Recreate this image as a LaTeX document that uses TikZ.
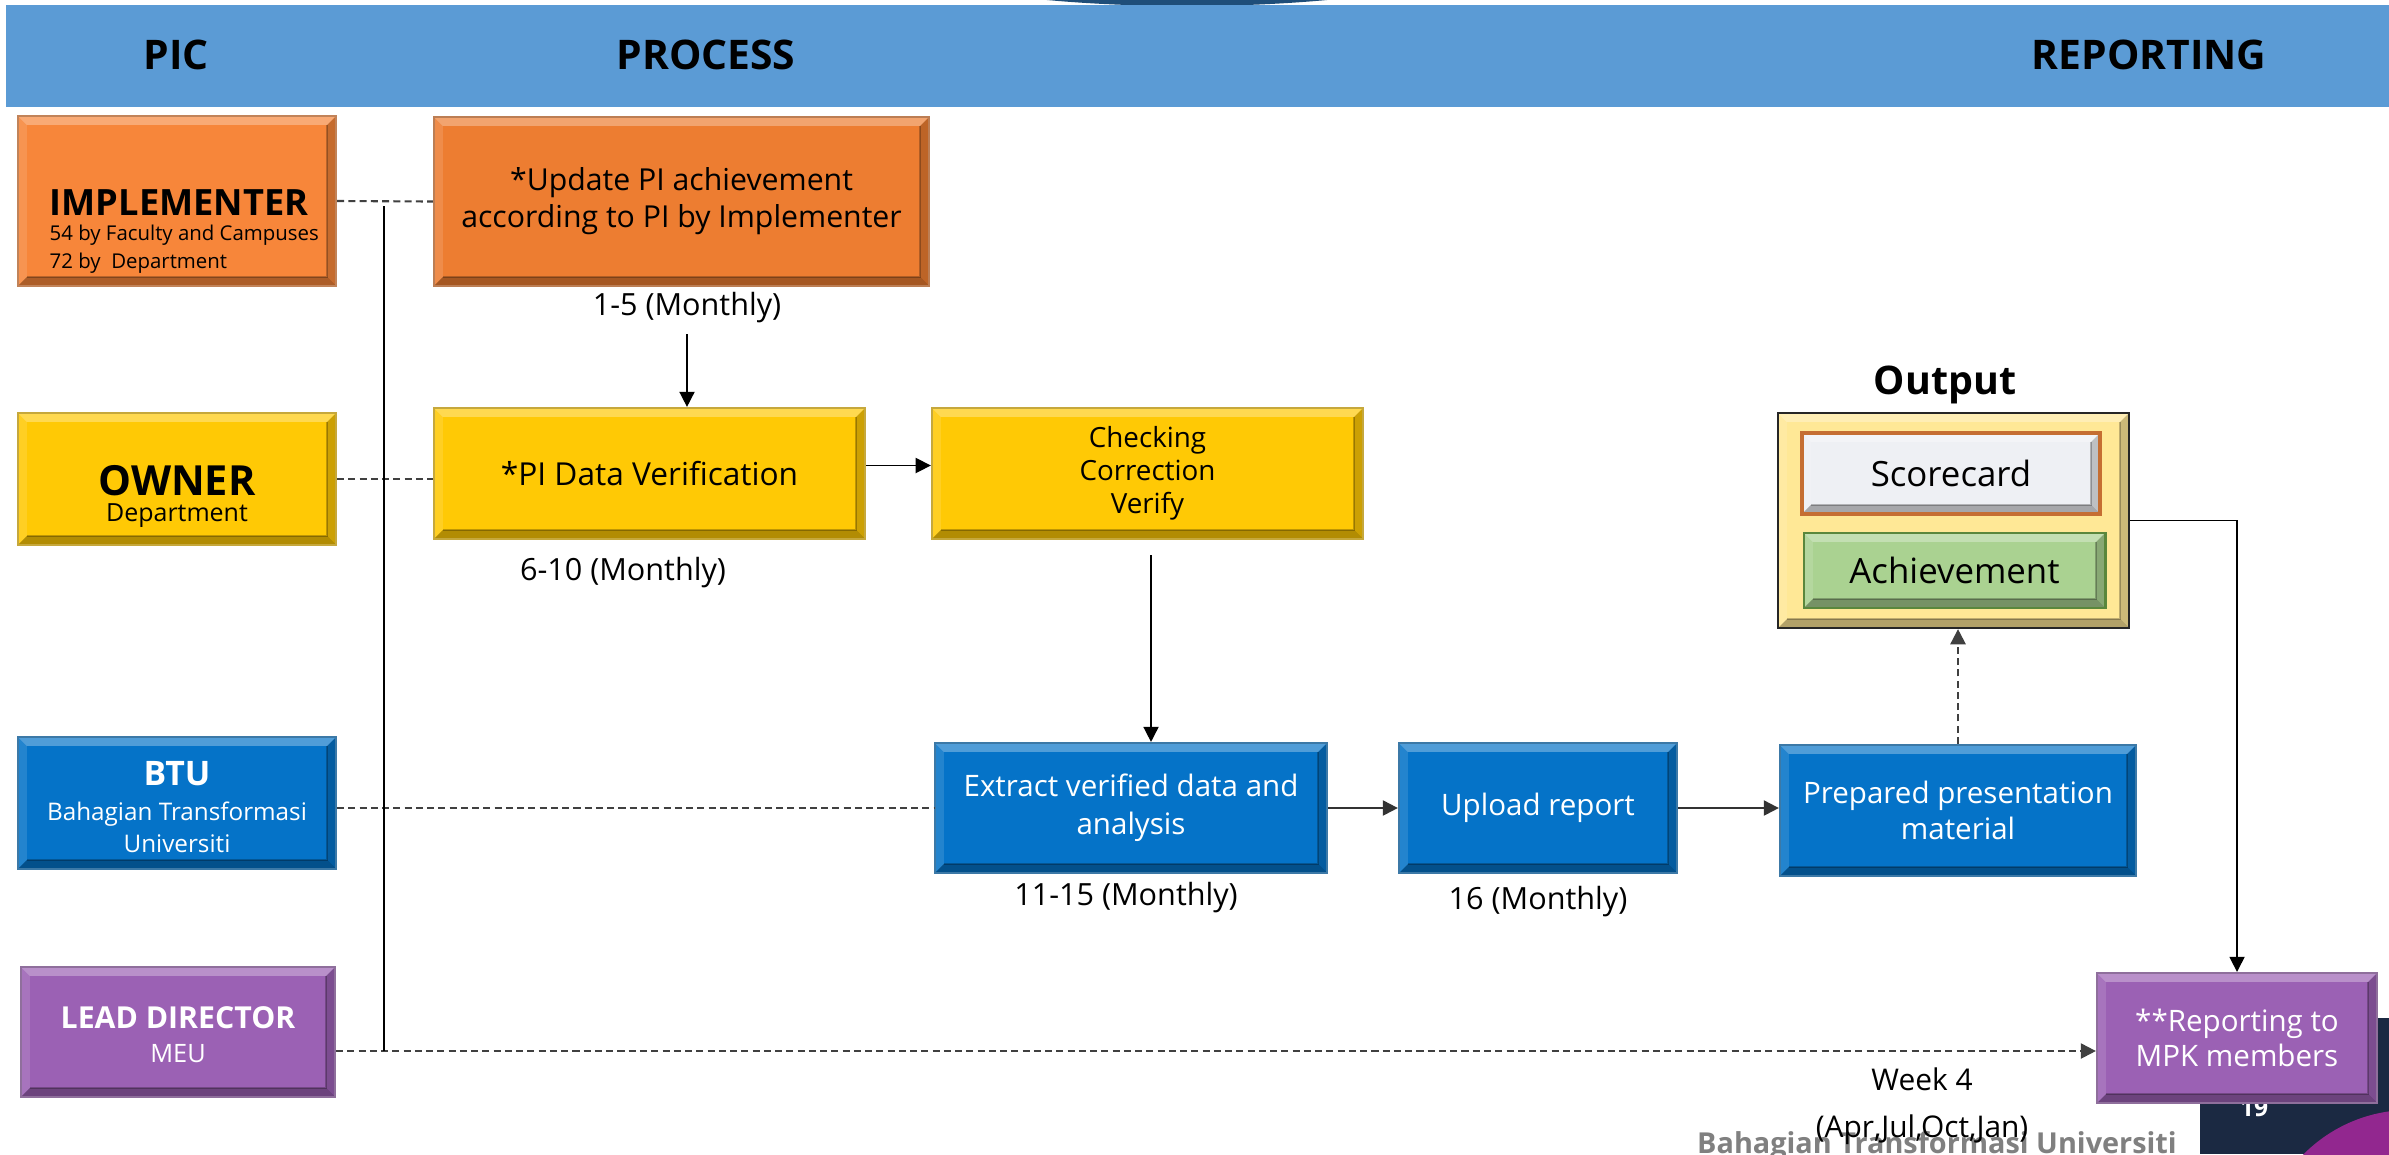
\documentclass[tikz,border=0pt]{standalone}
\usepackage{fontspec}
\setmainfont{Open Sans}
\usetikzlibrary{arrows.meta,calc}
\definecolor{band}{RGB}{91,155,213}
\definecolor{bandtop}{RGB}{31,78,121}
\definecolor{orA}{RGB}{247,134,58}
\definecolor{orB}{RGB}{237,125,49}
\definecolor{yel}{RGB}{255,201,5}
\definecolor{blu}{RGB}{5,115,200}
\definecolor{pur}{RGB}{155,97,180}
\definecolor{outy}{RGB}{255,232,150}
\definecolor{scw}{RGB}{238,240,244}
\definecolor{scb}{RGB}{197,110,50}
\definecolor{achg}{RGB}{170,210,145}
\definecolor{achb}{RGB}{90,135,60}
\definecolor{navy}{RGB}{27,41,66}
\definecolor{magp}{RGB}{146,39,143}
\definecolor{footg}{RGB}{128,128,128}
\newcommand\myfs[2]{\fontsize{#1}{#2}\selectfont}
\def\bv{0.09cm}
\begin{document}
\begin{tikzpicture}[x=0.01cm,y=-0.01cm,
  bev/.style={fill=#1, draw=#1!55!gray, line width=0.6pt, inner sep=0pt,
    path picture={
      \coordinate (q1) at (path picture bounding box.north west);
      \coordinate (q2) at (path picture bounding box.north east);
      \coordinate (q3) at (path picture bounding box.south east);
      \coordinate (q4) at (path picture bounding box.south west);
      \coordinate (r1) at ($(q1)+(\bv,-\bv)$);
      \coordinate (r2) at ($(q2)+(-\bv,-\bv)$);
      \coordinate (r3) at ($(q3)+(-\bv,\bv)$);
      \coordinate (r4) at ($(q4)+(\bv,\bv)$);
      \fill[white,opacity=.30] (q1)--(q2)--(r2)--(r1)--cycle;
      \fill[white,opacity=.12] (q1)--(r1)--(r4)--(q4)--cycle;
      \fill[black,opacity=.20] (q2)--(q3)--(r3)--(r2)--cycle;
      \fill[black,opacity=.30] (q4)--(q3)--(r3)--(r4)--cycle;
      \draw[black,opacity=.25,line width=.5pt] (r4)--(r3)--(r2);
    }},
  txt/.style={inner sep=0pt},
  dline/.style={draw=black!75, line width=0.6pt, dash pattern=on 2pt off 1.2pt},
  sline/.style={draw=black, line width=0.45pt},
  arr/.style={-{Triangle[length=4.3pt,width=4.3pt]}},
  mlbl/.style={inner sep=0pt, font=\myfs{8.7}{10}},
]
\useasboundingbox (0,0) rectangle (2389,1154);
\clip (0,0) rectangle (2389,1154);
\fill[white] (0,0) rectangle (2389,1154);

% header
\fill[bandtop] (1187,-54) ellipse [x radius=3.2cm, y radius=0.6cm];
\node[fill=band, inner sep=0pt, minimum width=23.82cm, minimum height=1.02cm] (hdr) at (1198,56) {};
\node[txt, anchor=base, font=\bfseries\myfs{11.6}{14}] (hpic) at (176,69) {PIC};
\node[txt, anchor=base, font=\bfseries\myfs{11.6}{14}] (hproc) at (706,69) {PROCESS};
\node[txt, anchor=base, font=\bfseries\myfs{11.6}{14}] (hrep) at (2149,69) {REPORTING};

% footer decorations
\fill[navy] (2200,1018) rectangle (2389,1154);
\fill[magp] (2410,1260) circle [radius=1.5cm];
\node[txt, font=\bfseries\myfs{7}{8}, text=white] (pg) at (2254,1108) {19};
\node[txt, anchor=base, font=\bfseries\myfs{8.2}{10}, text=footg] (foot) at (1937,1153) {Bahagian Transformasi Universiti};

% PIC boxes
\node[bev=orA, minimum width=3.18cm, minimum height=1.70cm] (impl) at (177,201) {};
\node[txt, anchor=base west, font=\bfseries\myfs{10.3}{12}] (implT) at (49,215) {IMPLEMENTER};
\node[txt, anchor=base west, font=\myfs{5.8}{7}] (implA) at (49,240) {54 by Faculty and Campuses};
\node[txt, anchor=base west, font=\myfs{5.8}{7}] (implB) at (49,268) {72 by~ Department};

\node[bev=yel, minimum width=3.18cm, minimum height=1.32cm] (own) at (177,479) {};
\node[txt, anchor=base, font=\bfseries\myfs{11.8}{14}] (ownT) at (177,495) {OWNER};
\node[txt, anchor=base, font=\myfs{7.1}{9}] (ownA) at (177,521) {Department};

\node[bev=blu, minimum width=3.18cm, minimum height=1.32cm] (btu) at (177,803) {};
\node[txt, anchor=base, text=white, font=\bfseries\myfs{9.6}{12}] (btuT) at (177,785) {BTU};
\node[txt, anchor=base, text=white, font=\myfs{6.9}{9}] (btuA) at (177,820) {Bahagian Transformasi};
\node[txt, anchor=base, text=white, font=\myfs{6.9}{9}] (btuB) at (177,852) {Universiti};

\node[bev=pur, minimum width=3.14cm, minimum height=1.30cm] (lead) at (178,1032) {};
\node[txt, anchor=base, text=white, font=\bfseries\myfs{8.6}{10}] (leadT) at (178,1028) {LEAD DIRECTOR};
\node[txt, anchor=base, text=white, font=\myfs{7.2}{9}] (leadA) at (178,1062) {MEU};

% process boxes
\node[bev=orB, minimum width=4.95cm, minimum height=1.69cm, align=center, font=\myfs{8.6}{10.5}] (upd) at (681.5,201.5) {*Update PI achievement\\according to PI by Implementer};
\node[bev=yel, minimum width=4.31cm, minimum height=1.31cm, font=\myfs{9}{11}] (pid) at (649.5,473.5) {*PI Data Verification};
\node[bev=yel, minimum width=4.31cm, minimum height=1.31cm, align=center, font=\myfs{7.9}{9.4}] (chk) at (1147.5,473.5) {Checking\\Correction\\Verify};
\node[bev=blu, text=white, minimum width=3.92cm, minimum height=1.30cm, align=center, font=\myfs{8.4}{10.8}] (ext) at (1131,808) {Extract verified data and\\analysis};
\node[bev=blu, text=white, minimum width=2.78cm, minimum height=1.30cm, font=\myfs{8.4}{10}] (upl) at (1538,808) {Upload report};
\node[bev=blu, text=white, minimum width=3.56cm, minimum height=1.31cm, align=center, font=\myfs{8.4}{10.2}] (prep) at (1958,810.5) {Prepared presentation\\material};

% output group
\node[bev=outy, draw=black!85, minimum width=3.51cm, minimum height=2.15cm] (out) at (1953.5,520.5) {};
\node[bev=scw, draw=scb, line width=1pt, minimum width=2.98cm, minimum height=0.81cm, font=\myfs{9.9}{12}] (sc) at (1951,473.5) {Scorecard};
\node[bev=achg, draw=achb, line width=0.8pt, minimum width=3.01cm, minimum height=0.75cm, font=\myfs{9.9}{12}] (ach) at (1954.5,570.5) {Achievement};
\node[txt, font=\bfseries\myfs{11.2}{13}] (outT) at (1945,385) {Output};

% reporting
\node[bev=pur, text=white, minimum width=2.80cm, minimum height=1.30cm, align=center, font=\myfs{8.4}{10}] (rep) at (2237,1038) {**Reporting to\\MPK members};

% labels
\node[mlbl] (l15) at (687,308) {1-5 (Monthly)};
\node[mlbl] (l610) at (623,573) {6-10 (Monthly)};
\node[mlbl] (l1115) at (1126,898) {11-15 (Monthly)};
\node[mlbl] (l16) at (1538,902) {16 (Monthly)};
\node[inner sep=0pt, align=center, font=\myfs{8.5}{13.4}] (wk) at (1922,1106) {Week 4\\(Apr,Jul,Oct,Jan)};

% connectors
\coordinate (vt) at (384,206);
\coordinate (vb) at (384,1051);
\coordinate (ldy) at ($(lead.east)+(0,19)$);
\coordinate (pe) at ($(pid.east)+(0,-8)$);
\coordinate (cb) at (1151,555);
\draw[dline] (impl.east) -- (upd.west);
\draw[dline] (own.east) -- (own.east -| pid.west);
\draw[dline] (btu.east |- ext.west) -- (ext.west);
\draw[dline, arr] (ldy) -- (ldy -| rep.west);
\draw[sline] (vt) -- (vb);
\draw[sline, arr] (l15.south) ++(0,10) -- (l15.south |- pid.north);
\draw[sline, arr] (pe) -- (pe -| chk.west);
\draw[sline, arr] (cb) -- (cb |- ext.north);
\draw[sline, draw=black!80, line width=0.6pt, arr] (ext.east) -- (upl.west);
\draw[sline, draw=black!80, line width=0.6pt, arr] (upl.east) -- (upl.east -| prep.west);
\draw[dline, arr] (prep.north) -- (prep.north |- out.south);
\draw[sline, arr] (out.east) -| (rep.north);
\end{tikzpicture}
\end{document}
